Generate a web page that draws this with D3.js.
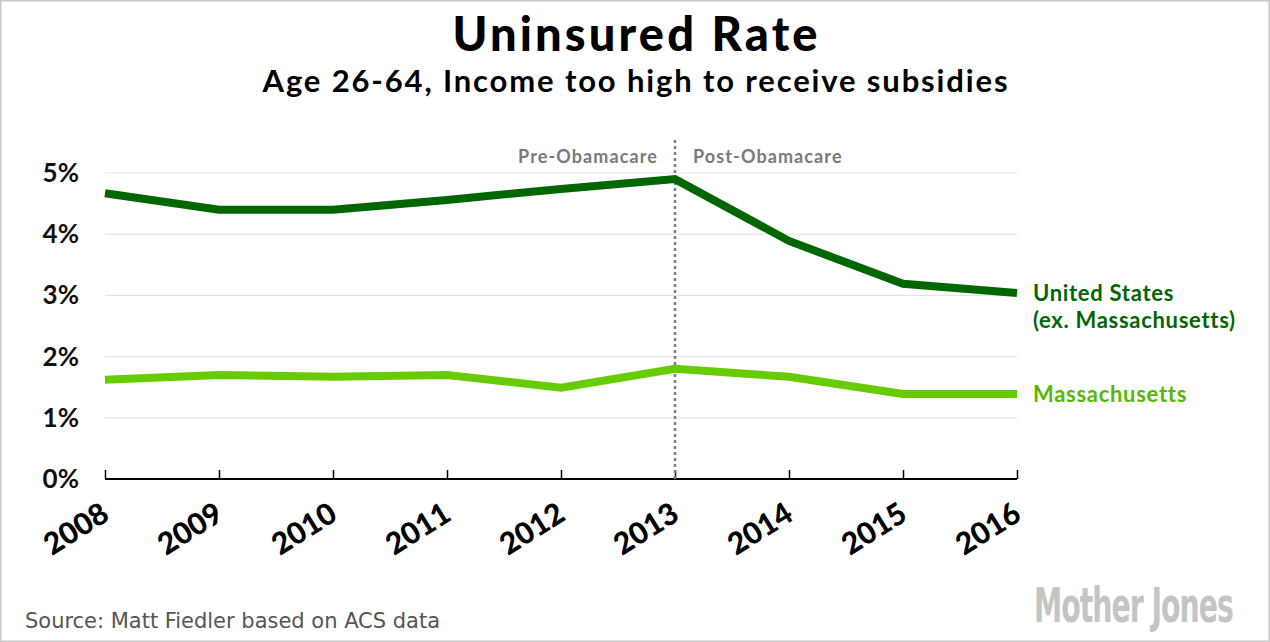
<!DOCTYPE html>
<html>
<head>
<meta charset="utf-8">
<script src="https://cdnjs.cloudflare.com/ajax/libs/d3/7.8.5/d3.min.js"></script>
<style>
body { margin: 0; background: #fff; }
</style>
</head>
<body>
<div class="graphic"></div>
<script>
var years = [2008, 2009, 2010, 2011, 2012, 2013, 2014, 2015, 2016]
var usRate = [4.67, 4.40, 4.40, 4.56, 4.74, 4.90, 3.89, 3.19, 3.04]
var maRate = [1.62, 1.70, 1.67, 1.70, 1.49, 1.80, 1.67, 1.39, 1.39]
var yTicks = [0, 1, 2, 3, 4, 5]
var seriesNames = ["United States|(ex. Massachusetts)", "Massachusetts"]

var W = 1270, H = 642

var svg = d3.select(".graphic")
	.append("svg")
	.attr("width", W)
	.attr("height", H)
	.style("font-family", "Lato, sans-serif")

// frame
svg.append("rect")
	.attr("x", 0.5).attr("y", 0.5)
	.attr("width", W - 1).attr("height", H - 1)
	.attr("fill", "#fff")
	.attr("stroke", "#c8c8c8")
	.attr("stroke-width", 2)

var x = d3.scaleLinear().domain([2008, 2016]).range([105, 1017])
var y = d3.scaleLinear().domain([0, 5]).range([479, 173])

// titles
svg.append("text")
	.attr("x", 635).attr("y", 51)
	.attr("text-anchor", "middle")
	.attr("font-size", "47px").attr("font-weight", 900)
	.attr("fill", "#000")
	.attr("textLength", 365)
	.text("Uninsured Rate")
svg.append("text")
	.attr("x", 635).attr("y", 92)
	.attr("text-anchor", "middle")
	.attr("font-size", "31px").attr("font-weight", 700)
	.attr("fill", "#000")
	.attr("textLength", 745)
	.text("Age 26-64, Income too high to receive subsidies")

// gridlines
svg.append("g")
	.selectAll("line")
	.data(yTicks.filter(function(d){ return d > 0 }))
	.enter().append("line")
	.attr("x1", x(2008)).attr("x2", x(2016))
	.attr("y1", function(d){ return y(d) })
	.attr("y2", function(d){ return y(d) })
	.attr("stroke", "#e3e3e3")
	.attr("stroke-width", 1.2)

// y labels
svg.append("g")
	.selectAll("text")
	.data(yTicks)
	.enter().append("text")
	.attr("x", 79)
	.attr("y", function(d){ return y(d) + 9 })
	.attr("text-anchor", "end")
	.attr("font-size", "26px").attr("font-weight", 700)
	.attr("fill", "#111")
	.text(function(d){ return d + "%" })

// x axis
var xAxis = d3.axisTop(x)
	.tickValues(years)
	.tickSize(9)
	.tickFormat("")
var gx = svg.append("g")
	.attr("transform", "translate(0," + y(0) + ")")
	.call(xAxis)
gx.select(".domain").attr("stroke", "#000").attr("stroke-width", 2).attr("d", "M" + x(2008) + ",0H" + x(2016))
gx.selectAll(".tick line").attr("stroke", "#000").attr("stroke-width", 1.5)

svg.append("g")
	.selectAll("text")
	.data(years)
	.enter().append("text")
	.attr("transform", function(d){ return "translate(" + (x(d) + 6) + "," + 519 + ") rotate(-32)" })
	.attr("text-anchor", "end")
	.attr("font-size", "30px").attr("font-weight", 900)
	.attr("fill", "#000")
	.text(function(d){ return d })

// obamacare divider
svg.append("line")
	.attr("x1", x(2013)).attr("x2", x(2013))
	.attr("y1", 140).attr("y2", y(0))
	.attr("stroke", "#808080")
	.attr("stroke-width", 2.5)
	.attr("stroke-dasharray", "3,3")
svg.append("text")
	.attr("x", x(2013) - 17).attr("y", 163)
	.attr("text-anchor", "end")
	.attr("font-size", "18px").attr("font-weight", 700)
	.attr("fill", "#7a7a7a")
	.attr("letter-spacing", "1.1px")
	.text("Pre-Obamacare")
svg.append("text")
	.attr("x", x(2013) + 18).attr("y", 163)
	.attr("font-size", "18px").attr("font-weight", 700)
	.attr("fill", "#7a7a7a")
	.attr("letter-spacing", "1.1px")
	.text("Post-Obamacare")

// lines
var line = d3.line()
	.x(function(d){ return x(d[0]) })
	.y(function(d){ return y(d[1]) })

var series = [
	{ name: seriesNames[0], values: d3.zip(years, usRate), color: "#006600" },
	{ name: seriesNames[1], values: d3.zip(years, maRate), color: "#66cc00" }
]

svg.append("g")
	.selectAll("path")
	.data(series)
	.enter().append("path")
	.attr("d", function(d){ return line(d.values) })
	.attr("fill", "none")
	.attr("stroke", function(d){ return d.color })
	.attr("stroke-width", 8)

// series labels
var labels = svg.append("g")
	.selectAll("text")
	.data(series)
	.enter().append("text")
	.attr("x", 1033)
	.attr("y", function(d){ return y(d.values[d.values.length - 1][1]) + 8 })
	.attr("font-size", "22px").attr("font-weight", 700)
	.attr("letter-spacing", "0.7px")
	.attr("fill", function(d, i){ return i == 0 ? "#006600" : "#55b800" })
labels.each(function(d){
	var parts = d.name.split("|")
	var t = d3.select(this)
	parts.forEach(function(p, k){
		t.append("tspan").attr("x", 1033).attr("dy", k == 0 ? 0 : 27).text(p)
	})
})

// source + logo
svg.append("text")
	.attr("x", 25).attr("y", 628)
	.style("font-family", "'DejaVu Sans Condensed', 'DejaVu Sans', sans-serif")
	.attr("font-size", "22px")
	.attr("fill", "#555")
	.attr("textLength", 415)
	.attr("lengthAdjust", "spacingAndGlyphs")
	.text("Source: Matt Fiedler based on ACS data")

// logo: squeeze a bold condensed face into the logo's box
var logo = svg.append("g")
var logoText = logo.append("text")
	.style("font-family", "'DejaVu Sans Condensed', 'Liberation Sans Narrow', sans-serif")
	.attr("font-size", "48px").attr("font-weight", 700)
	.attr("letter-spacing", "-1.5px")
	.attr("fill", "#c4c4c4")
	.text("Mother Jones")
var logoLen = logoText.node().getComputedTextLength()
logo.attr("transform", "translate(1034,622) scale(" + (199 / logoLen) + ",1)")
</script>
</body>
</html>
